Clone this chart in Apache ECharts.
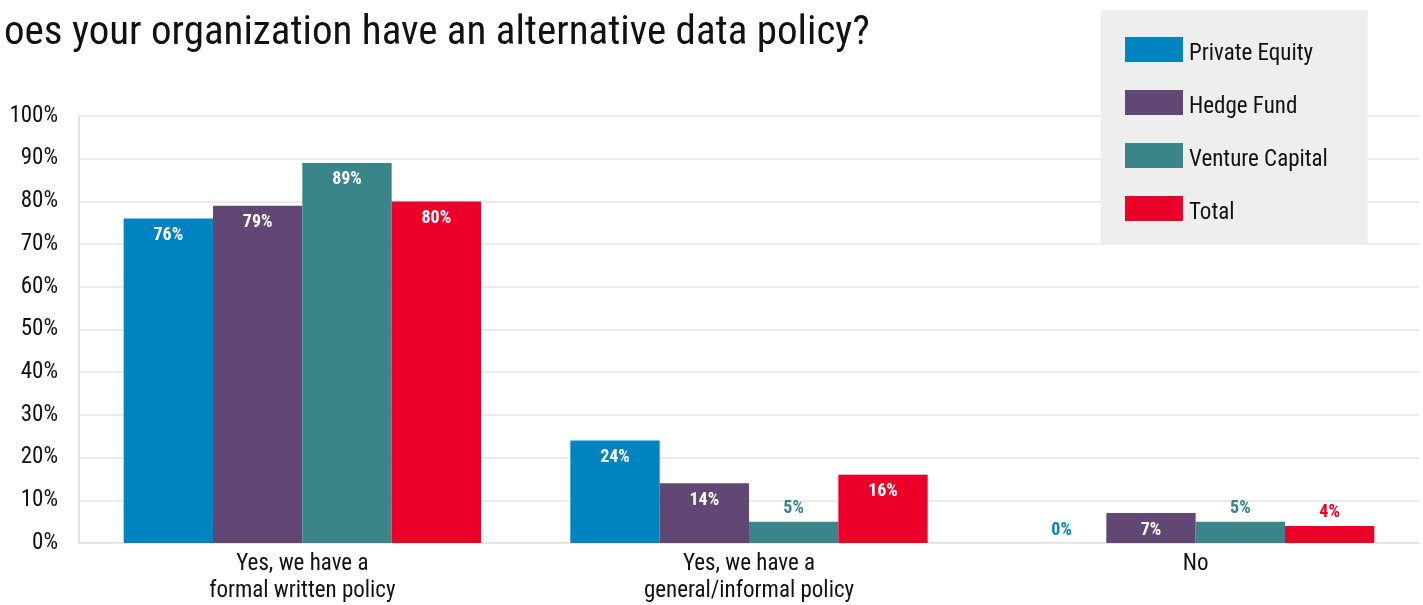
<!DOCTYPE html>
<html>
<head>
<meta charset="utf-8">
<script src="https://cdn.jsdelivr.net/npm/echarts@6/dist/echarts.min.js"></script>
<style>
html,body{margin:0;padding:0;background:#fff;}
#chart{width:1423px;height:605px;}
</style>
</head>
<body>
<div id="chart"></div>
<script>
var titleText = 'oes your organization have an alternative data policy?';
var categories = ['Yes, we have a\nformal written policy', 'Yes, we have a\ngeneral/informal policy', 'No'];
var seriesNames = ['Private Equity', 'Hedge Fund', 'Venture Capital', 'Total'];
var privateEquity = [76, 24, 0];
var hedgeFund = [79, 14, 7];
var ventureCapital = [89, 5, 5];
var total = [80, 16, 4];
var yTicks = [0, 10, 20, 30, 40, 50, 60, 70, 80, 90, 100];

var colors = ['#0083c1', '#614874', '#3a8589', '#ea0029'];
var FONT = '"Roboto Condensed", "Liberation Sans Narrow", "DejaVu Sans Condensed", Roboto, sans-serif';
var allData = [privateEquity, hedgeFund, ventureCapital, total];

function buildData(vals, color) {
  return vals.map(function (v) {
    if (v <= 5) {
      return { value: v, label: { position: 'top', distance: 4, color: color } };
    }
    return { value: v };
  });
}

var series = seriesNames.map(function (name, i) {
  return {
    name: name,
    type: 'bar',
    data: buildData(allData[i], colors[i]),
    barGap: '0%',
    barCategoryGap: '20%',
    itemStyle: { color: colors[i] },
    label: {
      show: true,
      position: 'insideTop',
      distance: 8,
      color: '#ffffff',
      fontFamily: FONT,
      fontWeight: 'bold',
      fontSize: 18,
      formatter: '{c}%'
    }
  };
});

var chart = echarts.init(document.getElementById('chart'));
chart.setOption({
  animation: false,
  color: colors,
  title: {
    text: titleText,
    left: -1,
    top: 8,
    textStyle: { fontFamily: FONT, fontWeight: 'normal', fontSize: 41, color: '#111' }
  },
  legend: {
    orient: 'vertical',
    left: 1101,
    top: 10,
    width: 269,
    backgroundColor: '#eeeeee',
    padding: [27, 40, 20, 24],
    itemWidth: 58,
    itemHeight: 25,
    itemGap: 24,
    icon: 'rect',
    formatter: function (name) { return '{t|' + name + '}'; },
    textStyle: {
      fontFamily: FONT, fontSize: 23, color: '#111',
      rich: { t: { fontFamily: FONT, fontSize: 23, color: '#111', padding: [10, 0, 0, 1] } }
    },
    data: seriesNames
  },
  grid: { left: 79, right: 4, top: 116, bottom: 61, containLabel: false },
  xAxis: {
    type: 'category',
    data: categories,
    axisLine: { show: true, lineStyle: { color: '#e6e6e6', width: 2 } },
    axisTick: { show: false },
    axisLabel: { fontFamily: FONT, fontSize: 23, color: '#111', lineHeight: 27, margin: 8 }
  },
  yAxis: {
    type: 'value',
    min: 0,
    max: 100,
    interval: 10,
    axisLine: { show: true, lineStyle: { color: '#e6e6e6', width: 2 } },
    axisTick: { show: false },
    splitLine: { show: true, lineStyle: { color: '#ebebeb', width: 2 } },
    axisLabel: {
      fontFamily: FONT, fontSize: 23, color: '#111', margin: 21,
      formatter: function (v) { return yTicks.indexOf(v) >= 0 ? v + '%' : ''; }
    }
  },
  series: series
});
</script>
</body>
</html>
